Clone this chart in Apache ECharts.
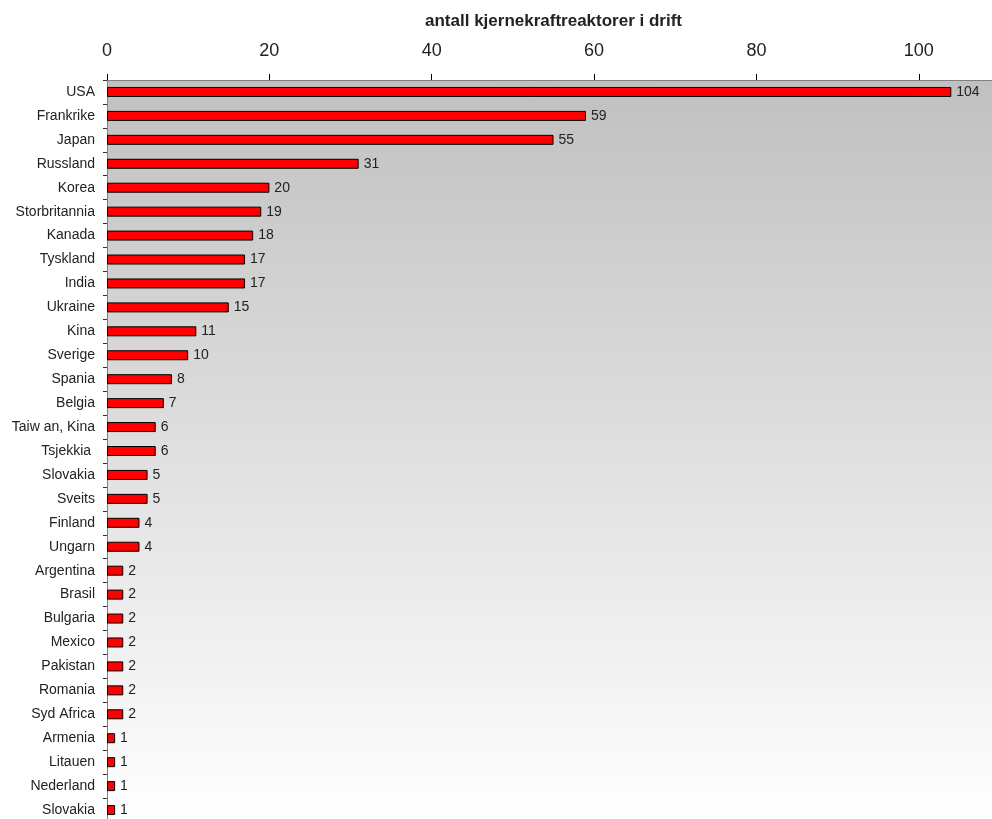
<!DOCTYPE html>
<html><head><meta charset="utf-8">
<script src="https://cdn.jsdelivr.net/npm/echarts@6/dist/echarts.min.js"></script>
<style>html,body{margin:0;padding:0;background:#fff;overflow:hidden;width:992px;height:819px;}#c{width:1010px;height:830px;}</style>
</head><body><div id="c"></div>
<script>
const categories = ["USA","Frankrike","Japan","Russland","Korea","Storbritannia","Kanada","Tyskland","India","Ukraine","Kina","Sverige","Spania","Belgia","Taiw an, Kina","Tsjekkia ","Slovakia","Sveits","Finland","Ungarn","Argentina","Brasil","Bulgaria","Mexico","Pakistan","Romania","Syd Africa","Armenia","Litauen","Nederland","Slovakia"];
const reactors = [104,59,55,31,20,19,18,17,17,15,11,10,8,7,6,6,5,5,4,4,2,2,2,2,2,2,2,1,1,1,1];
const xTicks = [0,20,40,60,80,100];
const axisTitle = "antall kjernekraftreaktorer i drift";

const chart = echarts.init(document.getElementById('c'), null, {renderer:'canvas'});
chart.setOption({
  animation:false,
  textStyle:{fontFamily:'Liberation Sans, Arial, sans-serif'},
  grid:{left:107, top:80, width:893, height:742, show:true, borderWidth:0,
    backgroundColor:{type:'linear',x:0,y:0,x2:0,y2:1,colorStops:[{offset:0,color:'#c0c0c0'},{offset:1,color:'#ffffff'}]}},
  xAxis:{type:'value', position:'top', min:0, max:110, interval:20,
    name:axisTitle, nameLocation:'middle', nameGap:50,
    nameTextStyle:{fontSize:17, fontWeight:'bold', color:'#222'},
    axisLine:{show:true, lineStyle:{color:'#808080', width:1}},
    axisTick:{show:true, length:6, lineStyle:{color:'#000'}, customValues:xTicks},
    axisLabel:{fontSize:18, color:'#222', margin:20, customValues:xTicks},
    splitLine:{show:false}},
  yAxis:{type:'category', inverse:true, data:categories,
    axisLine:{show:true, lineStyle:{color:'#808080', width:1}},
    axisTick:{show:true, length:4, lineStyle:{color:'#333'}},
    axisLabel:{fontSize:14, color:'#222', margin:12},
    splitLine:{show:false}},
  series:[{type:'bar', data:reactors, barWidth:10,
    itemStyle:{color:'#ff0000', borderColor:'#000', borderWidth:1},
    label:{show:true, position:'right', distance:5, fontSize:14, color:'#222'}}]
});
</script></body></html>
